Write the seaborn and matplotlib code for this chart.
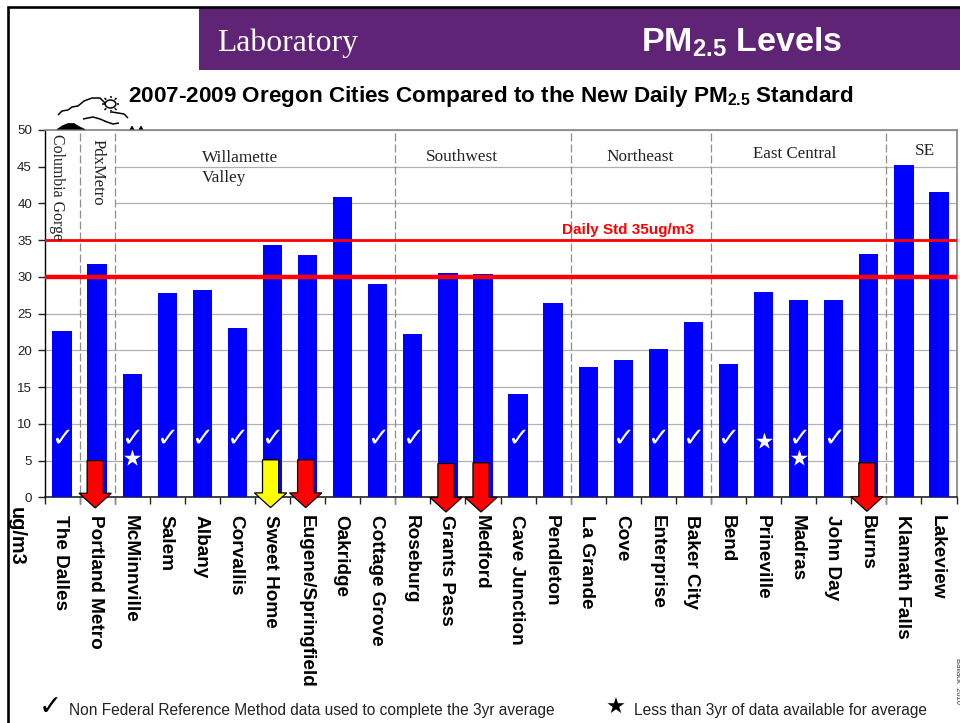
import matplotlib
matplotlib.use("Agg")
import matplotlib.pyplot as plt
from matplotlib.patches import Rectangle, Circle, PathPatch
from matplotlib.path import Path
from matplotlib.transforms import ScaledTranslation
import numpy as np
import pandas as pd
import seaborn as sns

cities = ["The Dalles", "Portland Metro", "McMinnville", "Salem", "Albany", "Corvallis",
          "Sweet Home", "Eugene/Springfield", "Oakridge", "Cottage Grove", "Roseburg",
          "Grants Pass", "Medford", "Cave Junction", "Pendleton", "La Grande", "Cove",
          "Enterprise", "Baker City", "Bend", "Prineville", "Madras", "John Day", "Burns",
          "Klamath Falls", "Lakeview"]
pm25 = [22.6, 31.7, 16.8, 27.8, 28.2, 23.0, 34.4, 33.0, 40.9, 29.1, 22.2, 30.6, 30.4,
        14.1, 26.4, 17.7, 18.7, 20.2, 23.8, 18.1, 28.0, 26.8, 26.9, 33.1, 45.3, 41.5]
check_cities = ["The Dalles", "McMinnville", "Salem", "Albany", "Corvallis", "Sweet Home",
                "Cottage Grove", "Roseburg", "Cave Junction", "Cove", "Enterprise",
                "Baker City", "Bend", "Madras", "John Day"]
check_level = 8.0
star_cities = ["McMinnville", "Prineville", "Madras"]
star_levels = [5.3, 7.7, 5.3]
arrow_cities = ["Portland Metro", "Sweet Home", "Eugene/Springfield", "Grants Pass", "Medford", "Burns"]
arrow_tops = [5.0, 5.1, 5.1, 4.6, 4.7, 4.7]
arrow_tips = [-1.45, -1.4, -1.4, -2.0, -2.0, -1.9]
arrow_colors = ["#FF0000", "#FFFF00", "#FF0000", "#FF0000", "#FF0000", "#FF0000"]
region_breaks = [1, 2, 10, 15, 19, 24]
standards = [35, 30]
standard_widths = [2.0, 3.2]

W, H = 960, 723
sns.set_theme(style="white")
plt.rcParams["font.family"] = ["Liberation Sans", "DejaVu Sans"]
plt.rcParams["mathtext.fontset"] = "custom"
plt.rcParams["mathtext.bf"] = "Liberation Sans:bold"
plt.rcParams["mathtext.rm"] = "Liberation Sans:bold"

fig = plt.figure(figsize=(W / 100, H / 100), dpi=100, facecolor="white")
left, right, top, bottom = 44.5, 956.5, 130, 497.3
ax = fig.add_axes([left / W, 1 - bottom / H, (right - left) / W, (bottom - top) / H])

def fx(x): return x / W
def fy(y): return 1 - y / H
def ftext(x, y, s, **kw):
    return fig.text(fx(x), fy(y), s, **kw)

df = pd.DataFrame({"city": cities, "pm25": pm25})
sns.barplot(data=df, x="city", y="pm25", color="#0000FF", saturation=1, width=0.55,
            linewidth=0, ax=ax, zorder=3)
ax.set_xlim(-0.5, 25.5)
ax.set_ylim(0, 50)
ax.set_xlabel("")
ax.set_ylabel("")
ax.set_yticks(range(0, 51, 5))
ax.tick_params(axis="y", length=5, width=1, color="#222222", labelsize=9.6, pad=4,
               labelcolor="#222222", left=True)
ax.set_xticks(np.arange(-0.5, 26, 1))
ax.set_xticklabels([])
ax.set_xticks(np.arange(26), cities, minor=True)
ax.tick_params(axis="x", which="major", length=5, width=1, color="#222222", bottom=True)
ax.tick_params(axis="x", which="minor", length=0, pad=13, labelsize=13.7, bottom=False)
nudge = ScaledTranslation(-1.5 / 100, 0, fig.dpi_scale_trans)
for lab in ax.get_xticklabels(minor=True):
    lab.set_rotation(270)
    lab.set_fontweight("bold")
    lab.set_color("black")
    lab.set_ha("center")
    lab.set_va("top")
    lab.set_transform(lab.get_transform() + nudge)

ax.yaxis.grid(True, color="#B0B0B0", lw=0.9, zorder=0)
ax.xaxis.grid(False)
ax.set_axisbelow(True)
ax.spines["left"].set_color("black")
ax.spines["left"].set_linewidth(1.0)
ax.spines["bottom"].set_color("#222222")
ax.spines["bottom"].set_linewidth(1.2)
ax.spines["top"].set_color("#8C8C8C")
ax.spines["top"].set_linewidth(1.3)
ax.spines["right"].set_color("#8C8C8C")
ax.spines["right"].set_linewidth(1.3)

# white box behind the two narrow region labels
ax.add_patch(Rectangle((-0.5, 36), 2, 14, facecolor="white", edgecolor="none", zorder=1))

for b in region_breaks:
    ax.plot([b - 0.5, b - 0.5], [-0.85, 49.6], color="#8E8E8E", lw=0.9, dashes=(6.4, 2.4),
            zorder=2, clip_on=False)

for lvl, lw in zip(standards, standard_widths):
    ax.axhline(lvl, color="#FF0000", lw=lw, zorder=4)

pos = {c: i for i, c in enumerate(cities)}
ax.scatter([pos[c] for c in star_cities], star_levels, marker="*", s=165, color="white",
           linewidths=0, zorder=5)
for c in check_cities:
    ax.text(pos[c], check_level, "\u2713", color="white", fontsize=19, ha="center", va="center",
            family="DejaVu Sans", zorder=5)

for c, t, tip, col in zip(arrow_cities, arrow_tops, arrow_tips, arrow_colors):
    ax.arrow(pos[c] - 0.055, t, 0, tip - t, width=0.46, head_width=0.92, head_length=2.0,
             length_includes_head=True, facecolor=col, edgecolor="black", linewidth=0.9,
             clip_on=False, zorder=6)

ax.text(16.13, 35.45, "Daily Std 35ug/m3", color="#FF0000", fontsize=11, fontweight="bold",
        ha="center", va="bottom", zorder=5)

# slide furniture
fig.add_artist(Rectangle((fx(199), fy(70)), fx(761), 62 / H, transform=fig.transFigure,
                         facecolor="#5F2476", edgecolor="none"))
fig.add_artist(Rectangle((fx(8.1), fy(730)), fx(960), (730 - 7.2) / H, transform=fig.transFigure,
                         facecolor="none", edgecolor="black", linewidth=1.9))
ftext(217, 43, "Laboratory", color="white", family="Liberation Serif", fontsize=22.8, va="center")
ftext(641, 52, r"PM$\mathbf{_{2.5}}$ Levels", color="white", fontweight="bold", fontsize=24.5,
      va="baseline")
ftext(128, 102, r"2007-2009 Oregon Cities Compared to the New Daily PM$\mathbf{_{2.5}}$ Standard",
      color="black", fontweight="bold", fontsize=16.18, va="baseline")
ftext(16, 507, "ug/m3", rotation=270, fontweight="bold", fontsize=14.3, ha="center", va="top",
      color="black")

serif = dict(family="Liberation Serif", color="#222222", fontsize=12.4)
ftext(57, 134, "Columbia Gorge", rotation=270, ha="center", va="top",
      **{**serif, "fontsize": 11.4})
ftext(98, 139, "PdxMetro", rotation=270, ha="center", va="top", **{**serif, "fontsize": 12})
ftext(202, 158, "Willamette", va="center", **serif)
ftext(202, 178, "Valley", va="center", **serif)
ftext(426, 157, "Southwest", va="center", **serif)
ftext(606, 157, "Northeast", va="center", **serif)
ftext(753, 154, "East Central", va="center", **{**serif, "fontsize": 12.2})
ftext(915, 151, "SE", va="center", **serif)

ftext(50, 707, "\u2713", family="DejaVu Sans", fontsize=20, ha="center", va="center",
      color="black", fontweight="bold")
ftext(69, 710, "Non Federal Reference Method data used to complete the 3yr average", fontsize=11.2,
      va="center", color="#222222")
ftext(616, 708, "\u2605", family="DejaVu Sans", fontsize=16, ha="center", va="center", color="black")
ftext(634, 711, "Less than 3yr of data available for average", fontsize=11.2, va="center",
      color="#222222")
ftext(957, 658, "Ballack  2010", rotation=270, fontsize=5.5, ha="center", va="top", color="#333333")

# small logo: cloud, sun, wave, hills
def curve(pts, **kw):
    codes = [Path.MOVETO] + [Path.LINETO] * (len(pts) - 1)
    pts = [(fx(x), fy(y)) for x, y in pts]
    fig.add_artist(PathPatch(Path(pts, codes), transform=fig.transFigure, fill=kw.pop("fill", False),
                             **kw))
line = dict(edgecolor="black", linewidth=1.1)
curve([(58, 115), (62, 111), (68, 110), (72, 107), (78, 106), (84, 101), (92, 98), (100, 98),
       (105, 103)], **line)
curve([(112, 112), (118, 113), (124, 114), (128, 118)], **line)
curve([(83, 119), (88, 118), (93, 117), (100, 119), (107, 122), (113, 124), (119, 123)], **line)
curve([(57, 129.5), (62, 126), (68, 123.5), (74, 123.5), (78, 126), (85, 129.5)], fill=True,
      facecolor="black", edgecolor="black", linewidth=0.5)
fig.add_artist(Circle((fx(110.5), fy(104)), 5.3 / W, transform=fig.transFigure, facecolor="white",
                      edgecolor="black", linewidth=1.1))
for a in np.deg2rad(np.arange(0, 360, 45)):
    curve([(110.5 + 6 * np.cos(a), 104 + 6 * np.sin(a)),
           (110.5 + 8.5 * np.cos(a), 104 + 8.5 * np.sin(a))], **line)
curve([(130, 129.5), (132, 126), (134, 129.5)], fill=True, facecolor="black", edgecolor="black", linewidth=0.5)
curve([(139, 129.5), (141, 126), (143, 129.5)], fill=True, facecolor="black", edgecolor="black", linewidth=0.5)

fig.savefig("out.png", dpi=100, facecolor="white")
